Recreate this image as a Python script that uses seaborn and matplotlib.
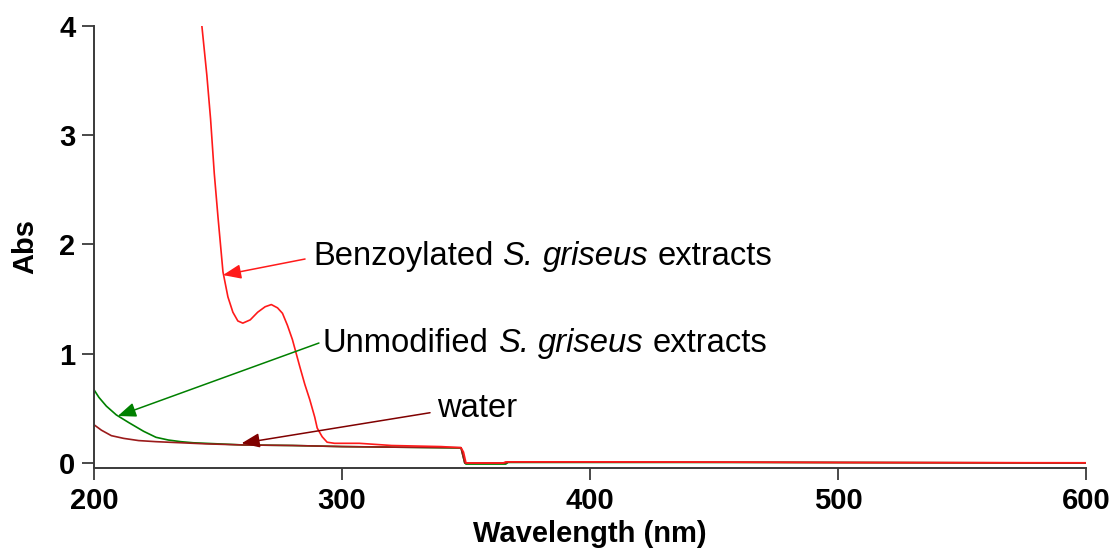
import numpy as np
import pandas as pd
import matplotlib
matplotlib.use("Agg")
import matplotlib.pyplot as plt
from matplotlib.transforms import IdentityTransform
import seaborn as sns

# UV-Vis absorbance spectra (wavelength in nm, absorbance)
benz_nm = [243.5, 245.5, 247.0, 248.5, 250.0, 252.0, 254.0, 256.0, 258.0, 260.0,
           263.0, 266.0, 269.0, 271.5, 274.0, 276.0, 278.0, 280.0, 283.0, 285.0,
           287.0, 289.0, 290.0, 292.0, 294.0, 297.0, 300.0, 307.0, 320.0, 340.0,
           348.0, 349.0, 350.0, 365.0, 366.0, 400.0, 450.0, 500.0, 600.0]
benz_abs = [4.00, 3.55, 3.15, 2.65, 2.25, 1.75, 1.52, 1.38, 1.30, 1.28,
            1.31, 1.38, 1.43, 1.45, 1.42, 1.37, 1.26, 1.13, 0.88, 0.72,
            0.58, 0.42, 0.32, 0.24, 0.19, 0.18, 0.18, 0.18, 0.16, 0.15,
            0.14, 0.10, 0.00, 0.00, 0.01, 0.01, 0.008, 0.004, 0.002]

unmod_nm = [200.0, 202.0, 205.0, 209.0, 214.0, 220.0, 225.0, 230.0, 235.0, 240.0,
            250.0, 260.0, 280.0, 300.0, 320.0, 348.0, 349.5, 350.0, 366.0, 367.0,
            470.0, 600.0]
unmod_abs = [0.67, 0.60, 0.52, 0.44, 0.37, 0.29, 0.235, 0.21, 0.195, 0.185,
             0.175, 0.165, 0.16, 0.15, 0.145, 0.137, 0.0, -0.01, -0.01, 0.005,
             0.005, 0.0]

water_nm = [200.0, 203.0, 207.0, 212.0, 218.0, 225.0, 235.0, 245.0, 260.0, 280.0,
            300.0, 320.0, 348.0, 349.5, 366.0, 367.0, 500.0, 600.0]
water_abs = [0.35, 0.30, 0.25, 0.225, 0.205, 0.195, 0.185, 0.175, 0.165, 0.16,
             0.15, 0.145, 0.14, 0.0, 0.0, 0.01, 0.005, 0.0]

series_names = ["unmodified", "water", "benzoylated"]
series_colors = {"unmodified": "#008000", "water": "#9B1B1B", "benzoylated": "#FF1A1A"}

# label words (text, italic?) for each annotated curve
benz_words = [("Benzoylated", False), ("S.", True), ("griseus", True), ("extracts", False)]
unmod_words = [("Unmodified", False), ("S.", True), ("griseus", True), ("extracts", False)]
water_words = [("water", False)]

frames = [
    pd.DataFrame({"Wavelength": unmod_nm, "Abs": unmod_abs, "sample": "unmodified"}),
    pd.DataFrame({"Wavelength": water_nm, "Abs": water_abs, "sample": "water"}),
    pd.DataFrame({"Wavelength": benz_nm, "Abs": benz_abs, "sample": "benzoylated"}),
]
spectra = pd.concat(frames, ignore_index=True)

sns.set_style("ticks")
plt.rcParams["font.family"] = ["Liberation Sans", "DejaVu Sans"]

fig = plt.figure(figsize=(11.13, 5.52), dpi=100)
ax = fig.add_axes([94 / 1113, 1 - 468 / 552, (1086 - 94) / 1113, (468 - 26) / 552])

sns.lineplot(data=spectra, x="Wavelength", y="Abs", hue="sample",
             hue_order=series_names, palette=series_colors, linewidth=1.2,
             legend=False, ax=ax, estimator=None, sort=True)

ax.set_xlim(200, 600)
ax.set_ylim(-0.046, 4.0)
ax.set_xticks([200, 300, 400, 500, 600])
ax.set_yticks([0, 1, 2, 3, 4])

spine_col = "#3a3a3a"
for side in ["top", "right"]:
    ax.spines[side].set_visible(False)
for side in ["left", "bottom"]:
    ax.spines[side].set_color(spine_col)
    ax.spines[side].set_linewidth(1.4)
ax.tick_params(axis="both", direction="out", length=8.5, width=1.3, color=spine_col,
               labelsize=21, pad=5, labelcolor="black")
for lab in ax.get_xticklabels() + ax.get_yticklabels():
    lab.set_fontweight("bold")

ax.set_xlabel("Wavelength (nm)", fontsize=21, fontweight="bold", labelpad=4, color="black")
ax.set_ylabel("Abs", fontsize=21, fontweight="bold", labelpad=14, color="black")

note_size = 23.6
renderer = fig.canvas.get_renderer()


def text_width(s, italic):
    t = fig.text(0, 0, s, fontsize=note_size, style="italic" if italic else "normal")
    w = t.get_window_extent(renderer).width
    t.remove()
    return w


space_w = text_width("n n", False) - text_width("nn", False)


def mixed_label(words, start):
    """Write words left to right from a data-space baseline start point."""
    x, y = ax.transData.transform(start)
    for word, italic in words:
        t = ax.text(x, y, word, transform=IdentityTransform(), fontsize=note_size,
                    style="italic" if italic else "normal", color="black",
                    ha="left", va="baseline")
        x += t.get_window_extent(renderer).width + space_w


annotations = [
    (benz_words, (288.3, 1.812), (252.0, 1.72), (285.1, 1.867), "#FF1A1A"),
    (unmod_words, (292.3, 1.016), (209.6, 0.43), (290.7, 1.098), "#008000"),
    (water_words, (338.3, 0.421), (259.5, 0.18), (335.5, 0.46), "#800000"),
]
for words, start, tip, tail, col in annotations:
    mixed_label(words, start)
    ax.annotate("", xy=tip, xytext=tail, textcoords="data",
                arrowprops=dict(arrowstyle="-|>,head_length=0.55,head_width=0.22",
                                color=col, lw=1.1, shrinkA=0, shrinkB=0,
                                mutation_scale=20))

fig.savefig("out.png", dpi=100)
